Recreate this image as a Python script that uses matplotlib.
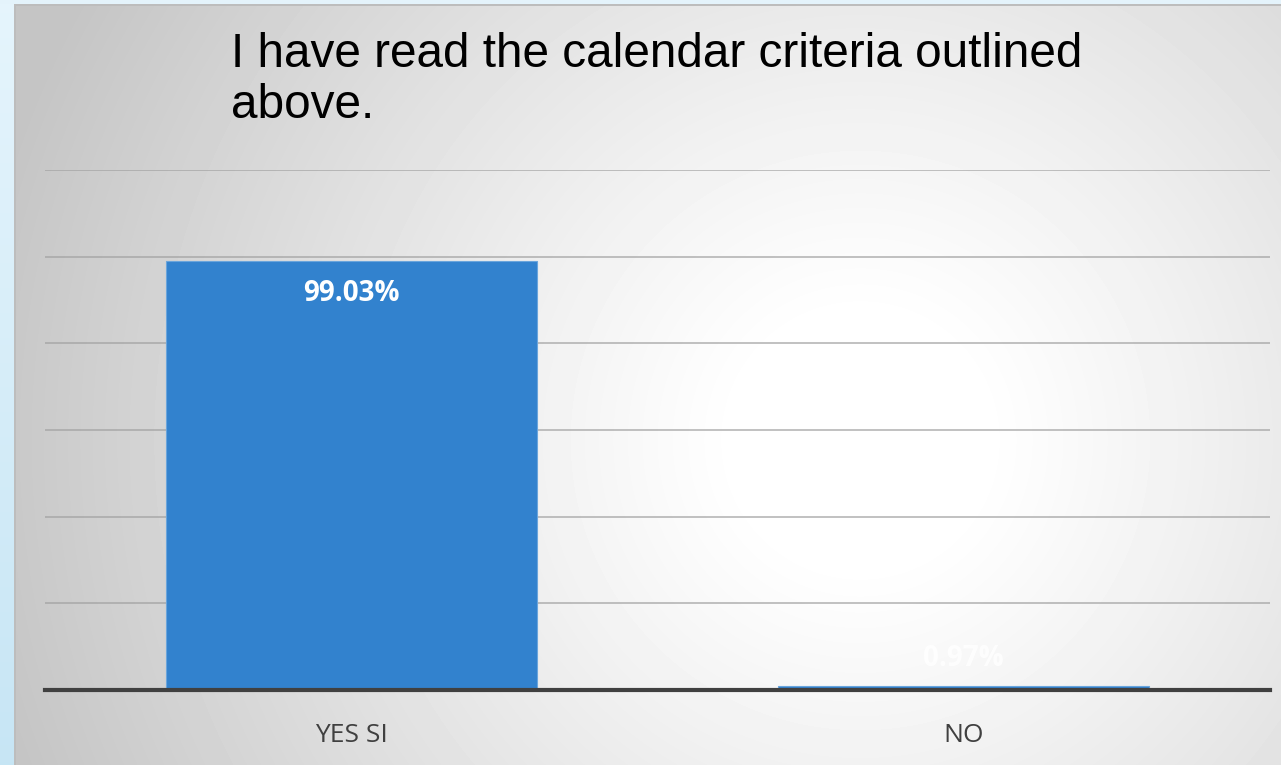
import numpy as np
import matplotlib.pyplot as plt
from matplotlib.patches import Rectangle

# data
categories = ["YES SI", "NO"]
values = [99.03, 0.97]
labels = ["99.03%", "0.97%"]
title = "I have read the calendar criteria outlined\nabove."

W, H = 1281, 765
fig = plt.figure(figsize=(W / 100, H / 100), dpi=100)

# background: radial gray gradient with a light blue frame
bg = fig.add_axes([0, 0, 1, 1])
yy, xx = np.mgrid[0:H, 0:W]
r = np.hypot(xx - 860, yy - 440)
r = np.clip((r - 120) / 780, 0, 1)
shade = 1 - 0.23 * r ** 1.1
bg.imshow(shade, cmap="gray", vmin=0, vmax=1, extent=[0, W, H, 0], aspect="auto")
strip = np.linspace(0, 1, H)[:, None]
blue_top = np.array([0.90, 0.96, 0.99])
blue_bot = np.array([0.78, 0.90, 0.96])
strip_rgb = blue_top + (blue_bot - blue_top) * strip[:, :, None]
bg.imshow(np.repeat(strip_rgb, 2, axis=1), extent=[0, 14, H, 0], aspect="auto")
bg.add_patch(Rectangle((0, 0), W, 4, color="#e4f3fb", lw=0))
bg.add_patch(Rectangle((14, 4), 1.5, H, color="#bdbdbd", lw=0))
bg.add_patch(Rectangle((14, 4), W, 1.5, color="#bdbdbd", lw=0))
bg.set_xlim(0, W)
bg.set_ylim(H, 0)
bg.axis("off")

# chart
ax = fig.add_axes([45 / W, 1 - 690 / H, 1225 / W, 520 / H])
ax.patch.set_alpha(0)
x = np.arange(len(categories))
bars = ax.bar(x, values, width=0.606, color="#3282ce", edgecolor="#6aa5dc", linewidth=0.8, zorder=3)
ax.set_xlim(-0.5, 1.5)
ax.set_ylim(0, 120)
ax.set_yticks(np.arange(0, 121, 20))
ax.yaxis.grid(True, color="#a0a0a0", linewidth=1.3, alpha=0.7)
ax.tick_params(left=False, bottom=False, labelleft=False)
for s in ["top", "right", "left"]:
    ax.spines[s].set_visible(False)
ax.spines["bottom"].set_color("#404040")
ax.spines["bottom"].set_linewidth(3)
ax.spines["bottom"].set_zorder(4)
ax.set_xticks(x)
ax.set_xticklabels(categories, fontsize=19, color="#404040", family="Open Sans")
ax.tick_params(axis="x", pad=20)

ax.annotate(labels[0], (x[0], values[0]), xytext=(0, -13), textcoords="offset points",
            ha="center", va="top", fontsize=20, fontweight="bold", color="white",
            family="Open Sans", zorder=5)
ax.annotate(labels[1], (x[1], values[1]), xytext=(0, 9), textcoords="offset points",
            ha="center", va="bottom", fontsize=20, fontweight="bold", color="white",
            alpha=0.85, family="Open Sans", zorder=5)

fig.text(231 / W, 1 - 32 / H, title, ha="left", va="top", fontsize=34.4,
         family="Liberation Sans", color="black", linespacing=1.16)

fig.savefig("out.png", dpi=100)
